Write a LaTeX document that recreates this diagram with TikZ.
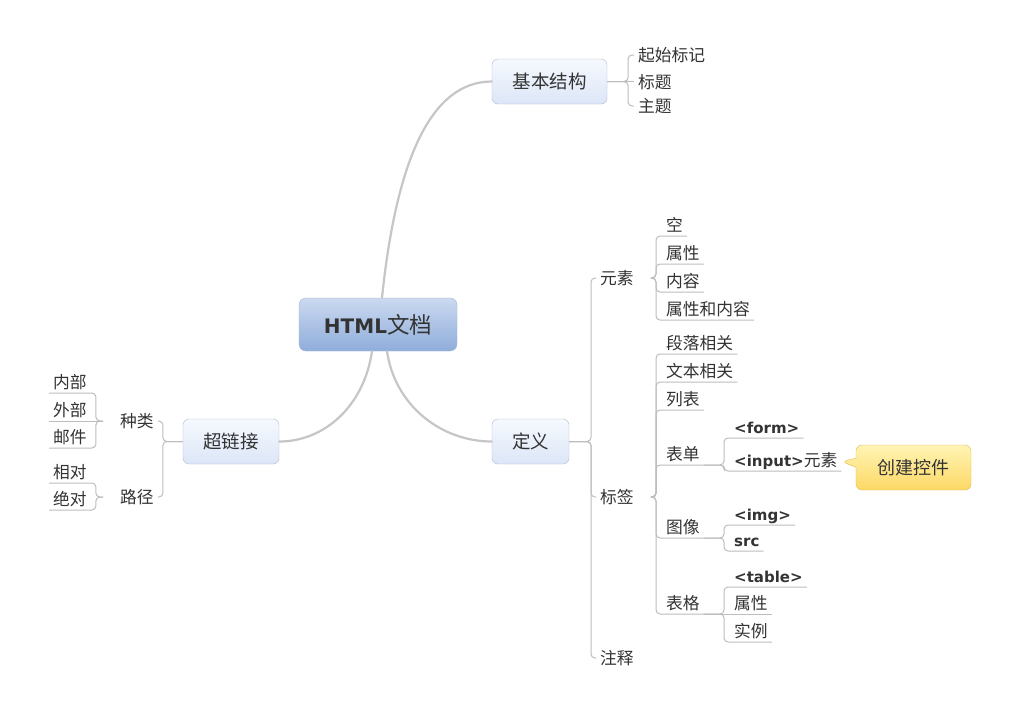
\documentclass[tikz,border=0pt]{standalone}
\usepackage{fontspec}
\setmainfont{Noto Sans CJK SC}
\newfontfamily\latfont{DejaVu Sans}
\usetikzlibrary{shapes.callouts}

\definecolor{limbgray}{HTML}{C6C6C6}
\definecolor{twiggray}{HTML}{BDBDBD}
\definecolor{inkgray}{HTML}{333333}
\definecolor{rootTop}{HTML}{CBD9F0}
\definecolor{rootBot}{HTML}{8FADDA}
\definecolor{rootLine}{HTML}{A3B6D4}
\definecolor{boxTop}{HTML}{F6F9FE}
\definecolor{boxBot}{HTML}{DCE6F7}
\definecolor{boxLine}{HTML}{AEBCD0}
\definecolor{noteTop}{HTML}{FFF4B4}
\definecolor{noteBot}{HTML}{FDD865}
\definecolor{noteLine}{HTML}{E2BC4E}

\newcommand{\tagtxt}[1]{{\latfont\bfseries\fontsize{15}{18}\selectfont #1}}

\tikzset{
  root/.style={draw=rootLine, top color=rootTop, bottom color=rootBot, rounded corners=7pt,
    minimum width=158pt, minimum height=53pt, inner sep=0pt, text=inkgray,
    font=\fontsize{22.5}{26}\selectfont},
  mainbox/.style={draw=boxLine, top color=boxTop, bottom color=boxBot, rounded corners=6pt,
    minimum height=45pt, inner sep=0pt, text=inkgray, font=\fontsize{18.5}{22}\selectfont},
  note/.style={rectangle callout, draw=noteLine, top color=noteTop, bottom color=noteBot,
    rounded corners=6pt, minimum width=115pt, minimum height=45pt, inner sep=0pt,
    callout pointer width=9pt, text=inkgray, font=\fontsize{18}{22}\selectfont},
  topic/.style={anchor=west, inner xsep=4pt, inner ysep=0pt, text height=17pt, text depth=4pt,
    text=inkgray, font=\fontsize{16.75}{20}\selectfont},
  leaf/.style={anchor=south west, inner xsep=4pt, inner ysep=0pt, text height=14pt,
    text depth=4.5pt, text=inkgray, font=\fontsize{16.75}{20}\selectfont},
  limb/.style={draw=limbgray, line width=2.2pt, line cap=round},
  twig/.style={draw=twiggray, line width=1pt, rounded corners=4pt},
}

\begin{document}
\begin{tikzpicture}[x=1pt, y=-1pt]
\fill[white] (0,0) rectangle (1022,716);
\useasboundingbox (0,0) rectangle (1022,716);

% main topics
\node[root] (root) at (378,324.5) {\tagtxt{\fontsize{20}{24}\selectfont HTML}文档};
\node[mainbox, minimum width=115pt] (jbjg) at (549.5,81.5) {基本结构};
\node[mainbox, minimum width=77pt] (dy) at (530.5,441.5) {定义};
\node[mainbox, minimum width=96pt] (clj) at (231,441.5) {超链接};

% 基本结构
\node[topic] (qsbj) at (634,55) {起始标记};
\node[topic] (bt) at (634,81.5) {标题};
\node[topic] (zt) at (634,106) {主题};

% 定义
\node[topic] (ys) at (596,278) {元素};
\node[topic] (bq) at (596,497) {标签};
\node[topic] (zs) at (596,658) {注释};

\node[leaf] (kong) at (662,236) {空};
\node[leaf] (sx1) at (662,264) {属性};
\node[leaf] (nr) at (662,292) {内容};
\node[leaf] (sxnr) at (662,320) {属性和内容};

\node[leaf] (dlxg) at (662,354) {段落相关};
\node[leaf] (wbxg) at (662,382) {文本相关};
\node[leaf] (lb) at (662,410) {列表};
\node[leaf] (bd) at (662,465) {表单};
\node[leaf] (tx) at (662,538) {图像};
\node[leaf] (bg) at (662,614) {表格};

\node[leaf] (form) at (730,438) {\tagtxt{<form>}};
\node[leaf] (input) at (730,471) {\tagtxt{<input>}元素};
\node[leaf] (img) at (730,525) {\tagtxt{<img>}};
\node[leaf] (src) at (730,551) {\tagtxt{src}};
\node[leaf] (table) at (730,587) {\tagtxt{<table>}};
\node[leaf] (sx2) at (730,614) {属性};
\node[leaf] (sl) at (730,642) {实例};

\node[note, callout absolute pointer={(input.east)}] (cjkj) at (913.5,467.5) {创建控件};

% 超链接
\node[topic] (zl) at (116,421) {种类};
\node[topic] (lj) at (116,497) {路径};
\node[leaf] (nb) at (49,393) {内部};
\node[leaf] (wb) at (49,421) {外部};
\node[leaf] (yj) at (49,448) {邮件};
\node[leaf] (xd) at (49,483) {相对};
\node[leaf] (jd) at (49,510) {绝对};

% branches
\draw[limb] ([xshift=4pt]root.north) .. controls +(14,-135) and +(-62,0) .. (jbjg.west);
\draw[limb] ([xshift=9pt]root.south) .. controls +(8,55) and +(-50,0) .. (dy.west);
\draw[limb] ([xshift=-6pt]root.south) .. controls +(-8,55) and +(45,0) .. (clj.east);

\foreach \kid in {qsbj,zt}
  \draw[twig] (jbjg.east) -| ([xshift=-6pt]\kid.west) -- (\kid.west);
\draw[twig] (jbjg.east) -- (bt.west);

\foreach \kid in {ys,bq,zs}
  \draw[twig] (dy.east) -| ([xshift=-5pt]\kid.west) -- (\kid.west);
\foreach \kid in {kong,sx1,nr,sxnr}
  \draw[twig] ([xshift=13pt]ys.east) -| ([xshift=-6pt]\kid.south west) -- (\kid.south east);
\foreach \kid in {dlxg,wbxg,lb,bd,tx,bg}
  \draw[twig] ([xshift=13pt]bq.east) -| ([xshift=-6pt]\kid.south west) -- (\kid.south east);
\foreach \kid in {form,input}
  \draw[twig] (bd.south east) -| ([xshift=-6pt]\kid.south west) -- (\kid.south east);
\foreach \kid in {img,src}
  \draw[twig] (tx.south east) -| ([xshift=-6pt]\kid.south west) -- (\kid.south east);
\foreach \kid in {table,sl}
  \draw[twig] (bg.south east) -| ([xshift=-6pt]\kid.south west) -- (\kid.south east);
\draw[twig] (bg.south east) -- (sx2.south east);

\foreach \kid in {zl,lj}
  \draw[twig] (clj.west) -| ([xshift=5pt]\kid.east) -- (\kid.east);
\foreach \kid in {nb,yj}
  \draw[twig] ([xshift=-13pt]zl.west) -| ([xshift=5pt]\kid.south east) -- (\kid.south west);
\draw[twig] ([xshift=-13pt]zl.west) -- (wb.south west);
\foreach \kid in {xd,jd}
  \draw[twig] ([xshift=-13pt]lj.west) -| ([xshift=5pt]\kid.south east) -- (\kid.south west);
\end{tikzpicture}
\end{document}
